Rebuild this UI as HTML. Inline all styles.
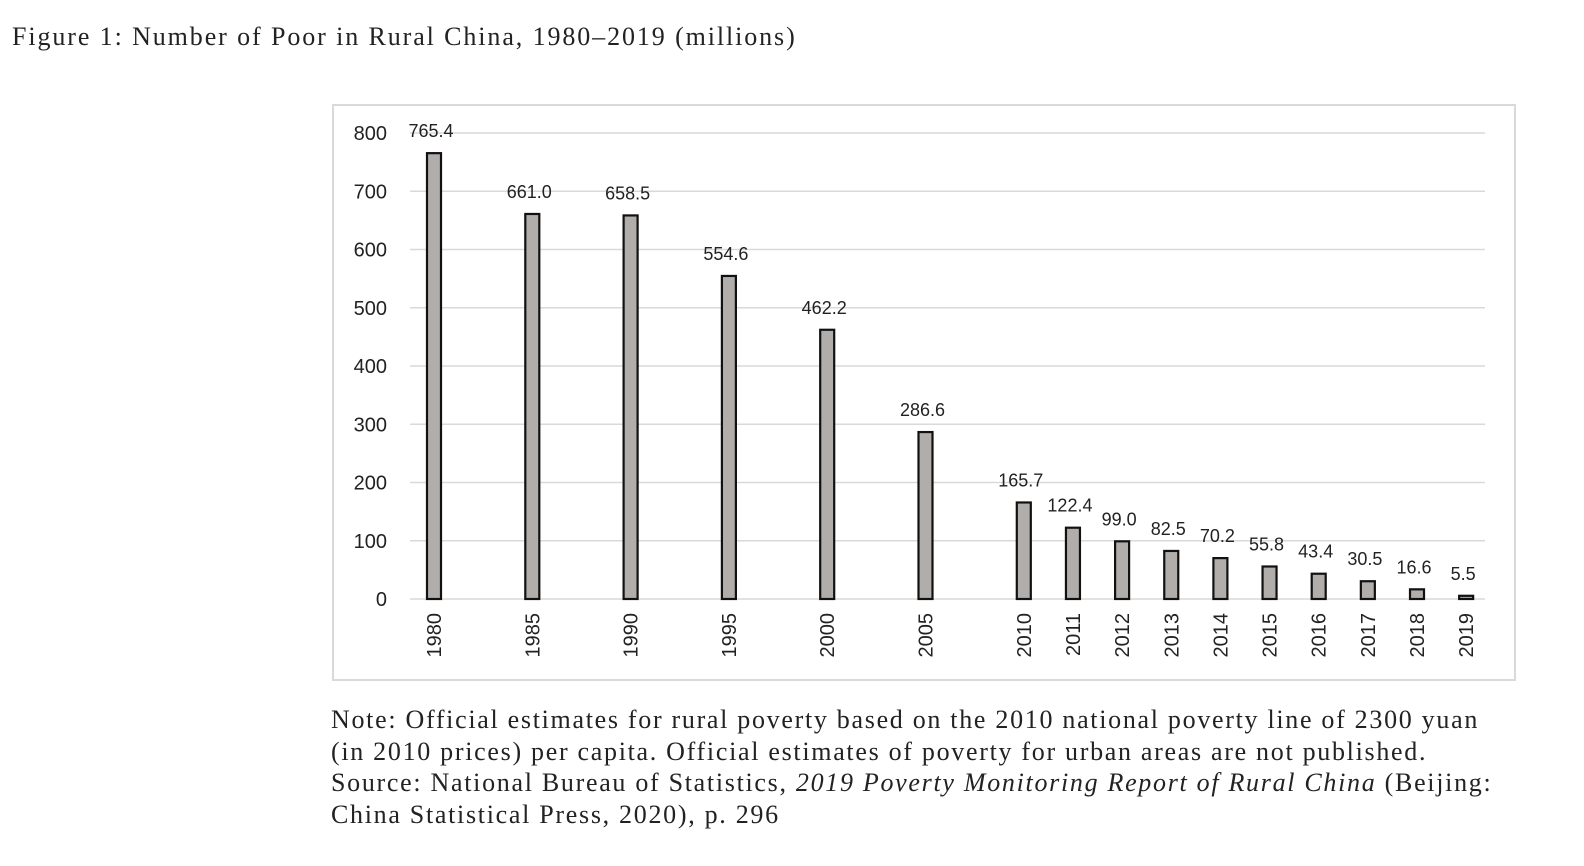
<!DOCTYPE html>
<html><head><meta charset="utf-8"><style>
body{margin:0;background:#fff;width:1584px;height:866px;overflow:hidden;position:relative;font-family:"Liberation Serif",serif;color:#222}
#title{position:absolute;left:12px;top:22px;font-size:26px;letter-spacing:1.9px;white-space:nowrap}
#note{position:absolute;left:331px;top:704px;font-size:26px;line-height:31.7px;letter-spacing:1.7px;white-space:nowrap}
svg{position:absolute;left:0;top:0}
</style></head><body>
<div id="title">Figure 1: Number of Poor in Rural China, 1980–2019 (millions)</div>
<svg id="chart" width="1584" height="866">
<rect x="333" y="105" width="1182" height="575" fill="#fff" stroke="#d9d9d9" stroke-width="2"/>
</svg>
<div id="note">Note: Official estimates for rural poverty based on the 2010 national poverty line of 2300 yuan<br>(in 2010 prices) per capita. Official estimates of poverty for urban areas are not published.<br>Source: National Bureau of Statistics, <i>2019 Poverty Monitoring Report of Rural China</i> (Beijing:<br>China Statistical Press, 2020), p. 296</div>
<script>
const categories=["1980","1985","1990","1995","2000","2005","2010","2011","2012","2013","2014","2015","2016","2017","2018","2019"];
const values=[765.4,661.0,658.5,554.6,462.2,286.6,165.7,122.4,99.0,82.5,70.2,55.8,43.4,30.5,16.6,5.5];
const valueLabels=["765.4","661.0","658.5","554.6","462.2","286.6","165.7","122.4","99.0","82.5","70.2","55.8","43.4","30.5","16.6","5.5"];
const yTicks=[0,100,200,300,400,500,600,700,800];
const NS="http://www.w3.org/2000/svg";
const svg=document.getElementById('chart');
function y(v){return 599-v*(466/800);}
function x(i){const yr=+categories[i];const slot=yr<=2010?(yr-1980)/5*2:12+(yr-2010);return 434+slot*49.15;}
function mk(t,a){const e=document.createElementNS(NS,t);for(const k in a)e.setAttribute(k,a[k]);svg.appendChild(e);return e;}
const sans='"Liberation Sans",sans-serif';
yTicks.forEach(t=>{
 const g=mk('line',{x1:410,x2:1485,y1:y(t),y2:y(t),stroke:'#d9d9d9','stroke-width':1.5});
 
 
 const l=mk('text',{x:387,y:y(t)+7,'text-anchor':'end','font-size':20,'font-family':sans,fill:'#222'});
 l.textContent=t;
 
 
});
values.forEach((v,i)=>{
 const cx=x(i);
 const r=mk('rect',{x:cx-7,y:y(v),width:14,height:599-y(v),fill:'#b1adab',stroke:'#111','stroke-width':2.2});
 
 
 const t=mk('text',{x:cx-3,y:y(v)-16,'text-anchor':'middle','font-size':18,'font-family':sans,fill:'#222'});
 t.textContent=valueLabels[i];
 
 
 const xl=mk('text',{x:0,y:0,'text-anchor':'end','font-size':20,'font-family':sans,fill:'#222',transform:`translate(${cx+7},${613}) rotate(-90)`});
 xl.textContent=categories[i];
 
 
});
</script>
</body></html>
